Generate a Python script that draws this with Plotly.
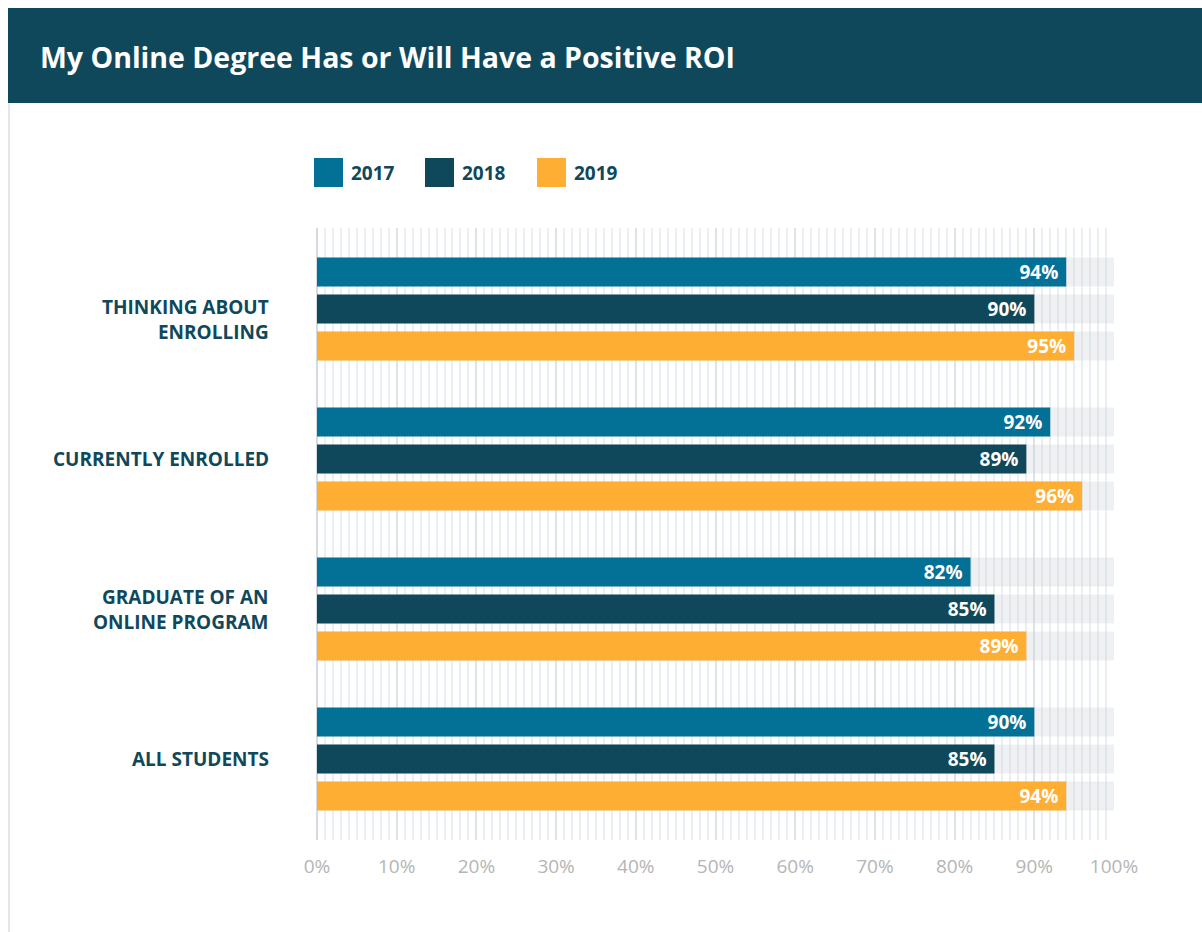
import plotly.graph_objects as go

categories = ["THINKING ABOUT<br>ENROLLING", "CURRENTLY ENROLLED", "GRADUATE OF AN<br>ONLINE PROGRAM", "ALL STUDENTS"]
years = ["2017", "2018", "2019"]
values_2017 = [94, 92, 82, 90]
values_2018 = [90, 89, 85, 85]
values_2019 = [95, 96, 89, 94]
full_scale = [100, 100, 100, 100]
x_ticks = [0, 10, 20, 30, 40, 50, 60, 70, 80, 90, 100]

colors = {"2017": "#037096", "2018": "#10485b", "2019": "#feae32"}
DARK = "#10485b"
FONT = "Open Sans"

W, H = 1202, 932
ML, MR, MT, MB = 317, 1202 - 1114, 228, 932 - 840
PW, PH = W - ML - MR, H - MT - MB


def px_x(px):
    return (px - ML) / PW


def px_y(py):
    return (H - MB - py) / PH


fig = go.Figure()
series = {"2017": values_2017, "2018": values_2018, "2019": values_2019}

for yr in years:
    fig.add_trace(go.Bar(
        y=categories, x=full_scale, orientation="h", offsetgroup=yr,
        marker=dict(color="rgba(200,205,212,0.3)", line=dict(width=0)),
        hoverinfo="skip", showlegend=False,
    ))

for yr in years:
    fig.add_trace(go.Bar(
        y=categories, x=series[yr], orientation="h", offsetgroup=yr, name=yr,
        marker=dict(color=colors[yr], line=dict(width=0)),
        text=[f"{v}%\u00a0" for v in series[yr]], textposition="inside",
        insidetextanchor="end", textangle=0, constraintext="none",
        textfont=dict(family=FONT, size=19, color="white", weight="bold"),
        showlegend=False,
    ))

fig.update_layout(
    width=W, height=H,
    margin=dict(l=ML, r=MR, t=MT, b=MB),
    paper_bgcolor="white", plot_bgcolor="white",
    barmode="group", bargap=0.26, bargroupgap=0.216,
    showlegend=False,
    font=dict(family=FONT),
    uniformtext=dict(mode="show", minsize=19),
)

fig.update_xaxes(
    range=[0, 100], tickvals=x_ticks, ticktext=[f"{t}%" for t in x_ticks],
    showgrid=True, gridcolor="#dfe3e8", gridwidth=1.5,
    zeroline=True, zerolinecolor="#d5dae0", zerolinewidth=2,
    minor=dict(dtick=1, tick0=0, showgrid=True, gridcolor="#eceff2", gridwidth=1.5),
    tickfont=dict(family=FONT, size=19, color="#b5b5b5"),
    ticks="", ticklabelstandoff=13, showline=False, fixedrange=True,
)
fig.update_yaxes(
    range=[3.54, -0.54], showgrid=False, zeroline=False, showline=False,
    showticklabels=False, ticks="", fixedrange=True,
)

# Category labels (right-aligned beside the groups)
label_shift = [-10, 0, 0, 0]
for cat, shift in zip(categories, label_shift):
    fig.add_annotation(xref="paper", yref="y", x=px_x(271), y=cat, yshift=shift,
                       xanchor="right", yanchor="middle", align="right",
                       showarrow=False, text=cat,
                       font=dict(family=FONT, size=19, color=DARK, weight="bold"))

# Title banner
fig.add_shape(type="rect", xref="paper", yref="paper",
              x0=px_x(8), x1=px_x(1202), y0=px_y(103), y1=px_y(8),
              fillcolor=DARK, line=dict(width=0), layer="above")
fig.add_shape(type="line", xref="paper", yref="paper",
              x0=px_x(9), x1=px_x(9), y0=px_y(932), y1=px_y(103),
              line=dict(color="#e6e6e6", width=2))
fig.add_annotation(xref="paper", yref="paper", x=px_x(38), y=px_y(57),
                   xanchor="left", yanchor="middle", showarrow=False,
                   text="My Online Degree Has or Will Have a Positive ROI",
                   font=dict(family=FONT, size=28.5, color="white", weight="bold"))

# Custom legend
leg_x = [314, 425, 537]
for yr, lx in zip(years, leg_x):
    fig.add_shape(type="rect", xref="paper", yref="paper",
                  x0=px_x(lx), x1=px_x(lx + 29), y0=px_y(187), y1=px_y(158),
                  fillcolor=colors[yr], line=dict(width=0))
    fig.add_annotation(xref="paper", yref="paper", x=px_x(lx + 35), y=px_y(173),
                       xanchor="left", yanchor="middle", showarrow=False, text=yr,
                       font=dict(family=FONT, size=19, color=DARK, weight="bold"))

fig.write_html("out.html")
